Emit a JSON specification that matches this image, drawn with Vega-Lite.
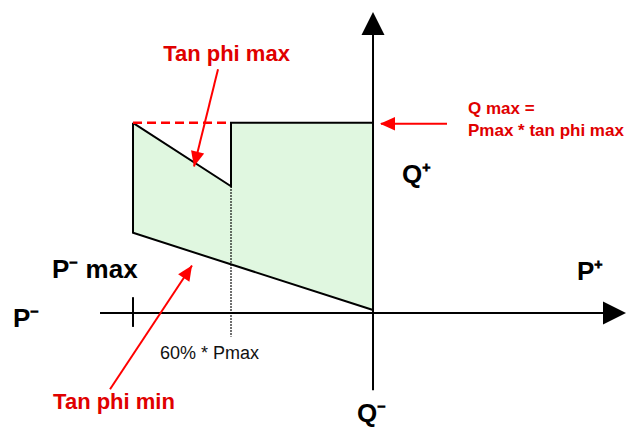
{
  "$schema": "https://vega.github.io/schema/vega-lite/v6.json",
  "width": 627,
  "height": 427,
  "padding": 0,
  "autosize": {"type": "fit", "contains": "padding"},
  "background": "white",
  "config": {"view": {"stroke": null}},
  "datasets": {
    "fill": [
      {"p": -1, "q": 0.8, "q2": 0.3375, "piece": "a"},
      {"p": -0.5917, "q": 0.5333, "q2": 0.205, "piece": "a"},
      {"p": -0.5917, "q": 0.8, "q2": 0.205, "piece": "b"},
      {"p": 0, "q": 0.8, "q2": 0.0125, "piece": "b"}
    ],
    "outline": [
      {"seg": "top", "i": 0, "p": -1, "q": 0.8},
      {"seg": "top", "i": 1, "p": -0.5917, "q": 0.5333},
      {"seg": "top", "i": 2, "p": -0.5917, "q": 0.8},
      {"seg": "top", "i": 3, "p": 0, "q": 0.8},
      {"seg": "bottom", "i": 0, "p": -1, "q": 0.8},
      {"seg": "bottom", "i": 1, "p": -1, "q": 0.3375},
      {"seg": "bottom", "i": 2, "p": 0, "q": 0.0125},
      {"seg": "hAxis", "i": 0, "p": -1.1375, "q": 0},
      {"seg": "hAxis", "i": 1, "p": 0.9583, "q": 0},
      {"seg": "vAxis", "i": 0, "p": 0, "q": -0.325},
      {"seg": "vAxis", "i": 1, "p": 0, "q": 1.2},
      {"seg": "tick", "i": 0, "p": -1, "q": 0.0667},
      {"seg": "tick", "i": 1, "p": -1, "q": -0.0583}
    ],
    "dotted": [
      {"p": -0.5917, "q": 0.5333},
      {"p": -0.5917, "q": -0.1}
    ],
    "dashed": [
      {"p": -1, "q": 0.8},
      {"p": -0.5917, "q": 0.8}
    ],
    "redArrows": [
      {"seg": "max", "i": 0, "p": -0.6458, "q": 1.025},
      {"seg": "max", "i": 1, "p": -0.7458, "q": 0.6167},
      {"seg": "qmax", "i": 0, "p": 0.3083, "q": 0.7958},
      {"seg": "qmax", "i": 1, "p": 0.0333, "q": 0.7958},
      {"seg": "min", "i": 0, "p": -1.0958, "q": -0.3208},
      {"seg": "min", "i": 1, "p": -0.7542, "q": 0.2}
    ],
    "redHeads": [
      {"p": -0.7458, "q": 0.6167, "dir": 193.8},
      {"p": 0.0292, "q": 0.7958, "dir": 270},
      {"p": -0.7542, "q": 0.2, "dir": 33.3}
    ],
    "blackHeads": [
      {"p": 0, "q": 1.2667, "dir": 0},
      {"p": 1.0542, "q": 0, "dir": 90}
    ],
    "redBig": [
      {"p": -0.6104, "q": 1.0583, "label": "Tan phi max"},
      {"p": -1.0792, "q": -0.4042, "label": "Tan phi min"}
    ],
    "redSmall": [
      {"p": 0.3958, "q": 0.8375, "label": "Q max ="},
      {"p": 0.3958, "q": 0.7458, "label": "Pmax * tan phi max"}
    ],
    "blackBig": [
      {"p": -1.3375, "q": 0.1458, "label": "P⁻ max"},
      {"p": -1.5, "q": -0.0583, "label": "P⁻"},
      {"p": 0.85, "q": 0.1375, "label": "P⁺"},
      {"p": 0.1208, "q": 0.5458, "label": "Q⁺"},
      {"p": -0.0667, "q": -0.4583, "label": "Q⁻"}
    ],
    "normal": [
      {"p": -0.8875, "q": -0.1917, "label": "60% * Pmax"}
    ]
  },
  "encoding": {
    "x": {"field": "p", "type": "quantitative", "axis": null, "scale": {"domain": [-1.5542, 1.0583], "nice": false, "zero": false}},
    "y": {"field": "q", "type": "quantitative", "axis": null, "scale": {"domain": [-0.4625, 1.3167], "nice": false, "zero": false}}
  },
  "layer": [
    {
      "data": {"name": "fill"},
      "mark": {"type": "area", "color": "#e0f7e0", "opacity": 1},
      "encoding": {
        "y2": {"field": "q2"},
        "detail": {"field": "piece", "type": "nominal"}
      }
    },
    {
      "data": {"name": "outline"},
      "mark": {"type": "line", "color": "black", "strokeWidth": 2},
      "encoding": {
        "detail": {"field": "seg", "type": "nominal"},
        "order": {"field": "i", "type": "quantitative"}
      }
    },
    {
      "data": {"name": "dotted"},
      "mark": {"type": "line", "color": "black", "strokeWidth": 1.5, "strokeDash": [1.5, 1.5]},
      "encoding": {}
    },
    {
      "data": {"name": "dashed"},
      "mark": {"type": "line", "color": "#ff0000", "strokeWidth": 2.5, "strokeDash": [9, 5]},
      "encoding": {}
    },
    {
      "data": {"name": "redArrows"},
      "mark": {"type": "line", "color": "#ff0000", "strokeWidth": 2},
      "encoding": {
        "detail": {"field": "seg", "type": "nominal"},
        "order": {"field": "i", "type": "quantitative"}
      }
    },
    {
      "data": {"name": "redHeads"},
      "mark": {"type": "point", "filled": true, "color": "#ff0000", "opacity": 1, "shape": "M0,0L-0.45,1L0.45,1Z", "size": 900},
      "encoding": {"angle": {"field": "dir", "type": "quantitative", "scale": null}}
    },
    {
      "data": {"name": "blackHeads"},
      "mark": {"type": "point", "filled": true, "color": "black", "opacity": 1, "shape": "M0,0L-0.5,1L0.5,1Z", "size": 2116},
      "encoding": {"angle": {"field": "dir", "type": "quantitative", "scale": null}}
    },
    {
      "data": {"name": "redBig"},
      "mark": {"type": "text", "font": "Liberation Sans", "fontWeight": "bold", "fontSize": 22, "color": "#e00000", "align": "center", "baseline": "alphabetic"},
      "encoding": {"text": {"field": "label"}}
    },
    {
      "data": {"name": "redSmall"},
      "mark": {"type": "text", "font": "Liberation Sans", "fontWeight": "bold", "fontSize": 17, "color": "#e00000", "align": "left", "baseline": "alphabetic"},
      "encoding": {"text": {"field": "label"}}
    },
    {
      "data": {"name": "blackBig"},
      "mark": {"type": "text", "font": "Liberation Sans", "fontWeight": "bold", "fontSize": 26, "color": "black", "align": "left", "baseline": "alphabetic"},
      "encoding": {"text": {"field": "label"}}
    },
    {
      "data": {"name": "normal"},
      "mark": {"type": "text", "font": "Liberation Sans", "fontSize": 18, "color": "#111111", "align": "left", "baseline": "alphabetic"},
      "encoding": {"text": {"field": "label"}}
    }
  ]
}
